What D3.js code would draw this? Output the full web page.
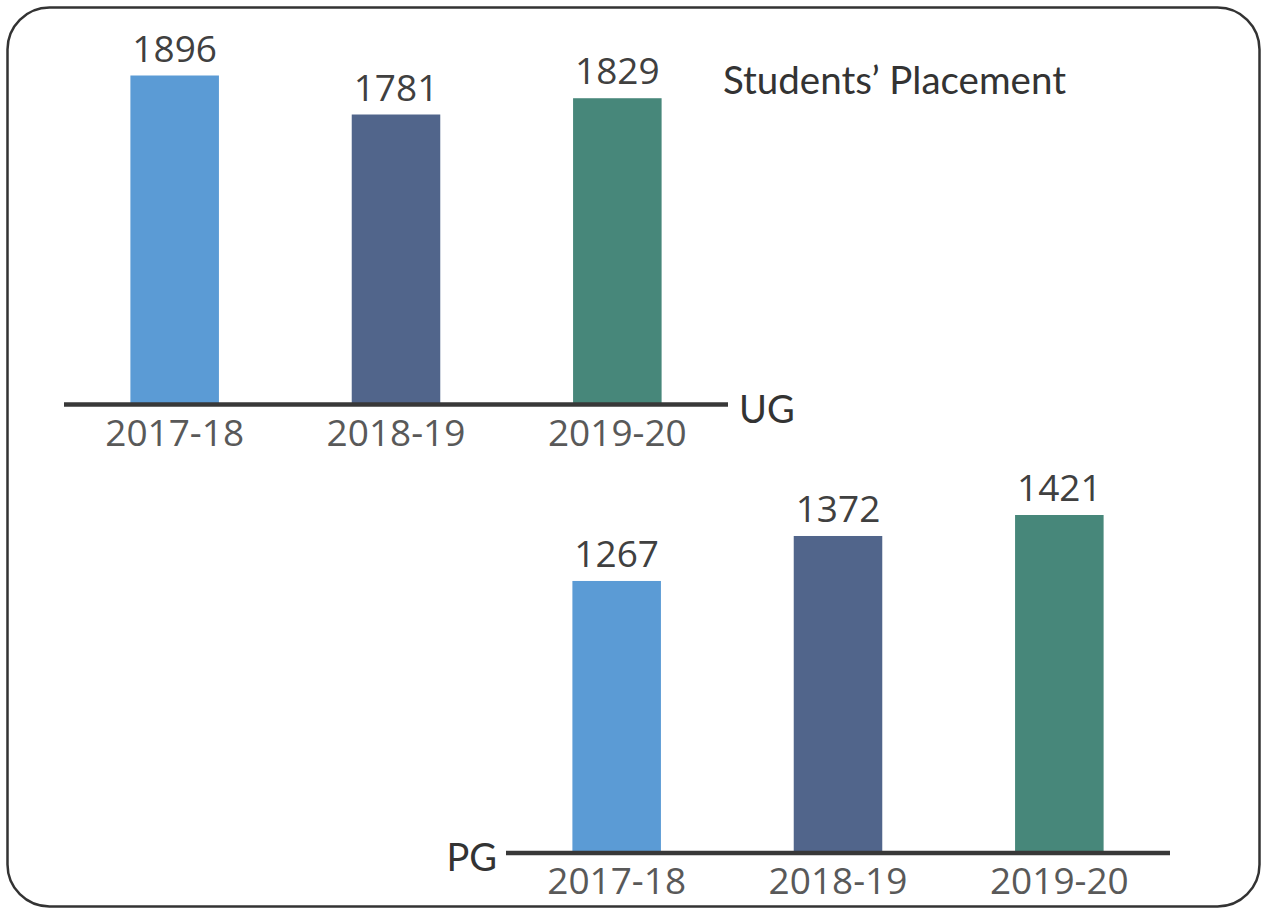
<!DOCTYPE html>
<html>
<head>
<meta charset="utf-8">
<script src="https://cdn.jsdelivr.net/npm/d3@7"></script>
<style>
  body { margin: 0; background: #fff; }
  svg text { font-family: "Open Sans", sans-serif; }
</style>
</head>
<body>
<svg id="chart" width="1262" height="909"></svg>
<script>
    // data
    var years = ["2017-18", "2018-19", "2019-20"];
    var ugValues = [1896, 1781, 1829];
    var pgValues = [1267, 1372, 1421];
    var barColors = ["#5b9bd5", "#51658b", "#47877a"];

    var svg = d3.select("#chart"),
        width = +svg.attr("width"),
        height = +svg.attr("height");

    // rounded frame
    svg.append("rect")
        .attr("x", 7.5)
        .attr("y", 7.5)
        .attr("width", width - 10)
        .attr("height", height - 10)
        .attr("rx", 42)
        .attr("fill", "none")
        .attr("stroke", "#333")
        .attr("stroke-width", 2.5);

    // title
    svg.append("text")
        .attr("x", 723)
        .attr("y", 94)
        .style("font-family", "Lato, sans-serif")
        .style("font-size", "38.5px")
        .attr("fill", "#333")
        .text("Students\u2019 Placement");

    function panel(values, opts) {
        var x = d3.scaleBand()
            .domain(years)
            .range([opts.x0, opts.x1])
            .paddingInner(0.6)
            .paddingOuter(0.3);

        // axis doesn't start from zero in the source picture
        var y = d3.scaleLinear()
            .domain(opts.domain)
            .range([opts.base, opts.base - opts.span]);

        var g = svg.append("g");

        g.selectAll(".bar")
            .data(values)
            .enter()
            .append("rect")
            .attr("class", "bar")
            .attr("x", function (d, i) {return x(years[i]);})
            .attr("width", x.bandwidth())
            .attr("y", function (d) {return y(d);})
            .attr("height", function (d) {return opts.base - y(d);})
            .attr("fill", function (d, i) {return barColors[i];});

        g.selectAll(".val")
            .data(values)
            .enter()
            .append("text")
            .attr("class", "val")
            .attr("x", function (d, i) {return x(years[i]) + x.bandwidth() / 2;})
            .attr("y", function (d) {return y(d) - 14;})
            .attr("text-anchor", "middle")
            .style("font-size", "37px")
            .attr("fill", "#404040")
            .text(function (d) {return d;});

        // baseline
        g.append("line")
            .attr("x1", opts.x0)
            .attr("x2", opts.x1)
            .attr("y1", opts.base)
            .attr("y2", opts.base)
            .attr("stroke", "#383838")
            .attr("stroke-width", 4.5);

        var axis = d3.axisBottom(x).tickSize(0).tickPadding(15);
        var ax = g.append("g")
            .attr("transform", "translate(0," + opts.base + ")")
            .call(axis);
        ax.select(".domain").remove();
        ax.selectAll("text")
            .attr("dy", "0.71em")
            .style("font-family", "\"Open Sans\", sans-serif")
            .style("font-size", "37px")
            .attr("fill", "#595959");

        g.append("text")
            .attr("x", opts.labelX)
            .attr("y", opts.base + opts.labelDy)
            .attr("text-anchor", opts.labelAnchor)
            .style("font-family", "Lato, sans-serif")
            .style("font-size", "38px")
            .attr("fill", "#333")
            .text(opts.label);
    }

    panel(ugValues, {
        x0: 64, x1: 728, base: 404.5,
        domain: [926, 1896], span: 329,
        label: "UG", labelX: 739, labelDy: 18, labelAnchor: "start"
    });

    panel(pgValues, {
        x0: 506, x1: 1170, base: 853,
        domain: [632, 1421], span: 338,
        label: "PG", labelX: 497, labelDy: 18, labelAnchor: "end"
    });
</script>
</body>
</html>
